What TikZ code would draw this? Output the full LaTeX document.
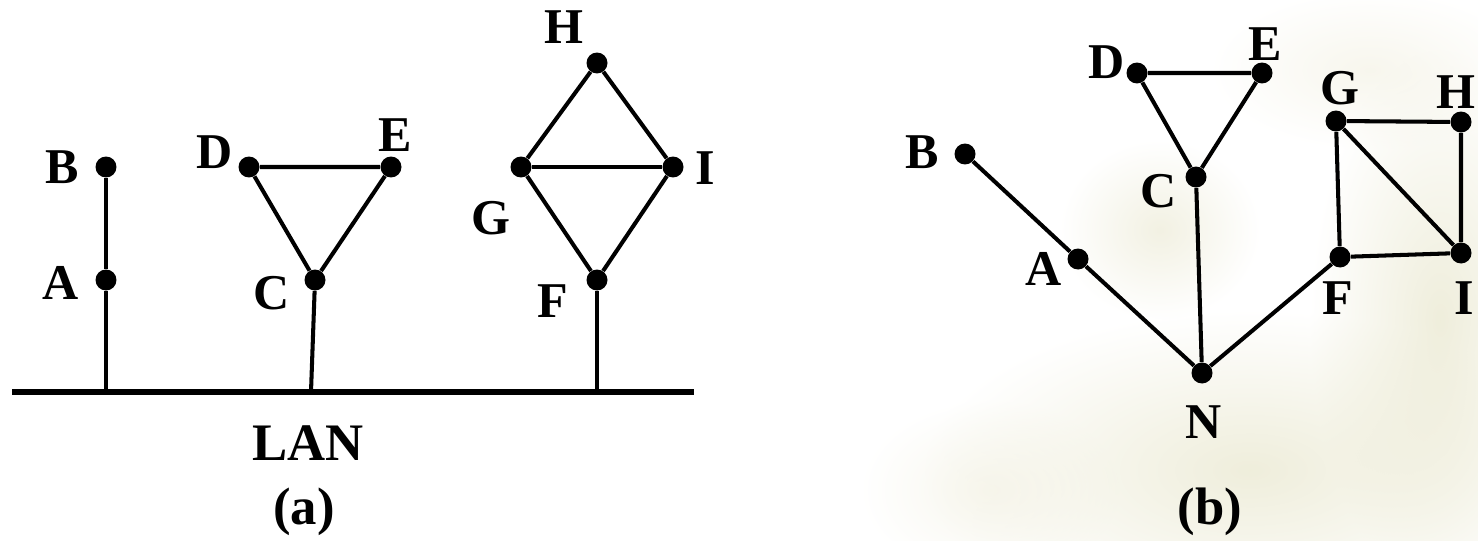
\documentclass[tikz,border=0pt]{standalone}
\usepackage{fontspec}
\setmainfont{Liberation Serif}
\usepackage{tikz}
\usetikzlibrary{positioning, fadings}

\definecolor{leafbg}{RGB}{230,228,200}
\tikzfading[name=soft blob, inner color=transparent!35, outer color=transparent!100]

\begin{document}
\begin{tikzpicture}[x=0.02cm, y=-0.02cm]
    \tikzset{
        host/.style={circle, fill=black, inner sep=0pt, minimum size=0.42cm},
        host label/.style={font=\bfseries\fontsize{28.5}{32}\selectfont, inner sep=0pt},
        case label/.style={font=\bfseries\fontsize{30}{34}\selectfont, inner sep=0pt},
        link/.style={line width=2.3pt},
        bus/.style={line width=3pt}
    }
    \useasboundingbox (0,0) rectangle (1478,541);

    % --- faint leaf picture behind (b)
    \fill[leafbg, path fading=soft blob] (1250,470) ellipse (6.5cm and 3.2cm);
    \fill[leafbg, path fading=soft blob] (1440,320) ellipse (2.6cm and 5.4cm);
    \fill[leafbg!80, path fading=soft blob] (1160,230) ellipse (2cm and 1.8cm);
    \fill[leafbg!50, path fading=soft blob] (1370,70) ellipse (3.2cm and 1.6cm);
    \fill[leafbg!50, path fading=soft blob] (990,490) ellipse (2.6cm and 1.8cm);

    % --- (a) hosts on one LAN
    \node[host] (aB) at (106,167) {};
    \node[host] (aA) at (106,280) {};
    \node[host] (aD) at (249,167) {};
    \node[host] (aE) at (391,167) {};
    \node[host] (aC) at (315,280) {};
    \node[host] (aH) at (597,63) {};
    \node[host] (aG) at (521,167) {};
    \node[host] (aI) at (673,167) {};
    \node[host] (aF) at (597,280) {};

    \coordinate (lanL) at (12,392);
    \coordinate (lanR) at (694,392);
    \coordinate (tapA) at (106,392);
    \coordinate (tapC) at (311,392);
    \coordinate (tapF) at (597,392);

    \draw[bus] (lanL) -- (lanR);
    \draw[link] (aB) -- (aA) -- (tapA);
    \draw[link] (aD) -- (aE) -- (aC) -- (aD);
    \draw[link] (aC) -- (tapC);
    \draw[link] (aH) -- (aI) -- (aF) -- (aG) -- (aH);
    \draw[link] (aG) -- (aI);
    \draw[link] (aF) -- (tapF);

    \node[host label] (aBl) at (62,167) {B};
    \node[host label] (aAl) at (61,283) {A};
    \node[host label] (aDl) at (215,152) {D};
    \node[host label] (aEl) at (395,135) {E};
    \node[host label] (aCl) at (272,293) {C};
    \node[host label] (aHl) at (564,27) {H};
    \node[host label] (aGl) at (491,218) {G};
    \node[host label] (aIl) at (705,168) {I};
    \node[host label] (aFl) at (553,301) {F};
    \node[case label] (lan) at (308,443) {LAN};
    \node[case label] (capA) at (304,512) {(a)};

    % --- (b) the LAN drawn as node N
    \node[host] (bB) at (965,154) {};
    \node[host] (bA) at (1078,259) {};
    \node[host] (bN) at (1202,373) {};
    \node[host] (bC) at (1196,177) {};
    \node[host] (bD) at (1137,73) {};
    \node[host] (bE) at (1262,73) {};
    \node[host] (bG) at (1336,121) {};
    \node[host] (bH) at (1461,122) {};
    \node[host] (bI) at (1461,253) {};
    \node[host] (bF) at (1340,257) {};

    \draw[link] (bB) -- (bA) -- (bN);
    \draw[link] (bN) -- (bC);
    \draw[link] (bC) -- (bD) -- (bE) -- (bC);
    \draw[link] (bN) -- (bF);
    \draw[link] (bF) -- (bG) -- (bH) -- (bI) -- (bF);
    \draw[link] (bG) -- (bI);

    \node[host label] (bBl) at (922,152) {B};
    \node[host label] (bAl) at (1044,269) {A};
    \node[host label] (bCl) at (1159,191) {C};
    \node[host label] (bDl) at (1107,62) {D};
    \node[host label] (bEl) at (1265,44) {E};
    \node[host label] (bGl) at (1340,88) {G};
    \node[host label] (bHl) at (1456,92) {H};
    \node[host label] (bIl) at (1464,298) {I};
    \node[host label] (bFl) at (1338,298) {F};
    \node[host label] (bNl) at (1204,422) {N};
    \node[case label] (capB) at (1210,512) {(b)};
\end{tikzpicture}
\end{document}
